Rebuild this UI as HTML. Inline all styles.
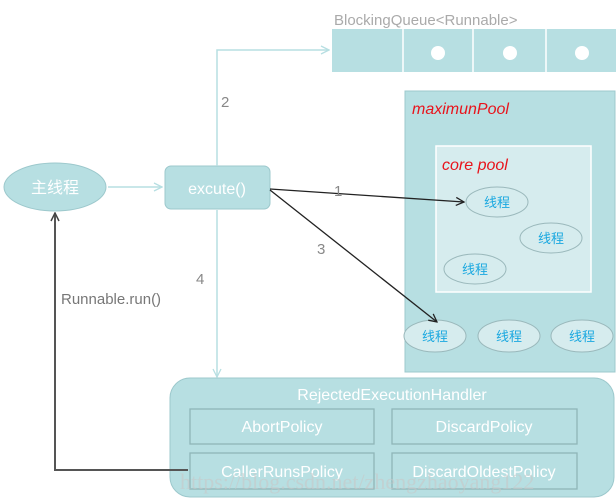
<!DOCTYPE html>
<html><head><meta charset="utf-8"><style>body{margin:0;background:#fff}svg{display:block}</style></head><body>
<svg width="616" height="500" xmlns="http://www.w3.org/2000/svg" font-family="Liberation Sans, Noto Sans CJK SC, sans-serif">
<defs>
<marker id="a" markerWidth="10" markerHeight="10" refX="9" refY="5" orient="auto" markerUnits="userSpaceOnUse"><path d="M1,1 L9,5 L1,9" fill="none" stroke="#222" stroke-width="1.3"/></marker>
<marker id="b" markerWidth="10" markerHeight="10" refX="9" refY="5" orient="auto" markerUnits="userSpaceOnUse"><path d="M1,1 L9,5 L1,9" fill="none" stroke="#b7dfe2" stroke-width="1.3"/></marker>
<marker id="c" markerWidth="10" markerHeight="10" refX="9" refY="5" orient="auto" markerUnits="userSpaceOnUse"><path d="M1,1 L9,5 L1,9" fill="none" stroke="#444" stroke-width="1.5"/></marker>
</defs>
<text x="334" y="25" font-size="15" fill="#aaa">BlockingQueue&lt;Runnable&gt;</text>
<rect x="332" y="29" width="284" height="43" fill="#b7dfe2"/>
<line x1="403" y1="29" x2="403" y2="72" stroke="#fff" stroke-width="1.5"/>
<line x1="473" y1="29" x2="473" y2="72" stroke="#fff" stroke-width="1.5"/>
<line x1="546" y1="29" x2="546" y2="72" stroke="#fff" stroke-width="1.5"/>
<ellipse cx="438" cy="53" rx="7" ry="7" fill="#fff"/>
<ellipse cx="510" cy="53" rx="7" ry="7" fill="#fff"/>
<ellipse cx="582" cy="53" rx="7" ry="7" fill="#fff"/>
<rect x="405" y="91" width="210" height="281" fill="#b7dfe2" stroke="#9cc8cc"/>
<text x="412" y="114" font-size="16" font-style="italic" fill="#e8141c">maximunPool</text>
<rect x="436" y="146" width="155" height="146" fill="#d6ecee" stroke="#fff" stroke-width="1.5"/>
<text x="442" y="170" font-size="16" font-style="italic" fill="#e8141c">core pool</text>
<g fill="#d6ecee" stroke="#9ab8bb" stroke-width="1">
<ellipse cx="497" cy="202" rx="31" ry="15"/><ellipse cx="551" cy="238" rx="31" ry="15"/><ellipse cx="475" cy="269" rx="31" ry="15"/>
<ellipse cx="435" cy="336" rx="31" ry="16"/><ellipse cx="509" cy="336" rx="31" ry="16"/><ellipse cx="582" cy="336" rx="31" ry="16"/>
</g>
<g font-size="13" fill="#1aa8e0" text-anchor="middle">
<text x="497" y="207">线程</text><text x="551" y="243">线程</text><text x="475" y="274">线程</text>
<text x="435" y="341">线程</text><text x="509" y="341">线程</text><text x="582" y="341">线程</text>
</g>
<ellipse cx="55" cy="187" rx="51" ry="24" fill="#b7dfe2" stroke="#9cc8cc"/>
<text x="55" y="193" font-size="16" fill="#fff" text-anchor="middle">主线程</text>
<rect x="165" y="166" width="105" height="43" rx="6" fill="#b7dfe2" stroke="#9cc8cc"/>
<text x="217" y="194" font-size="16" fill="#fff" text-anchor="middle">excute()</text>
<line x1="108" y1="187" x2="162" y2="187" stroke="#b7dfe2" stroke-width="1.5" marker-end="url(#b)"/>
<polyline points="217,166 217,50 329,50" fill="none" stroke="#b7dfe2" stroke-width="1.5" marker-end="url(#b)"/>
<line x1="217" y1="210" x2="217" y2="377" stroke="#b7dfe2" stroke-width="1.5" marker-end="url(#b)"/>
<text x="221" y="107" font-size="15" fill="#888">2</text>
<text x="196" y="284" font-size="15" fill="#888">4</text>
<line x1="270" y1="189" x2="464" y2="202" stroke="#222" stroke-width="1.3" marker-end="url(#a)"/>
<line x1="270" y1="190" x2="437" y2="322" stroke="#222" stroke-width="1.3" marker-end="url(#a)"/>
<text x="334" y="196" font-size="15" fill="#888">1</text>
<text x="317" y="254" font-size="15" fill="#888">3</text>
<rect x="170" y="378" width="444" height="119" rx="20" fill="#b7dfe2" stroke="#9cc8cc"/>
<text x="392" y="400" font-size="16" fill="#fff" text-anchor="middle">RejectedExecutionHandler</text>
<g fill="none" stroke="#8fb5b8" stroke-width="1.3">
<rect x="190" y="409" width="184" height="35"/><rect x="392" y="409" width="185" height="35"/>
<rect x="190" y="453" width="184" height="36"/><rect x="392" y="453" width="185" height="36"/>
</g>
<g font-size="16" fill="#fff" text-anchor="middle">
<text x="282" y="432">AbortPolicy</text><text x="484" y="432">DiscardPolicy</text>
<text x="282" y="477">CallerRunsPolicy</text><text x="484" y="477">DiscardOldestPolicy</text>
</g>
<polyline points="188,470 55,470 55,213" fill="none" stroke="#555" stroke-width="2" marker-end="url(#c)"/>
<text x="61" y="304" font-size="15" fill="#777">Runnable.run()</text>
<text x="180" y="489" font-size="22" fill="#c8c8c8" fill-opacity="0.6" font-family="Liberation Serif, serif">https://blog.csdn.net/zhengzhaoyang122</text>
</svg>
</body></html>
